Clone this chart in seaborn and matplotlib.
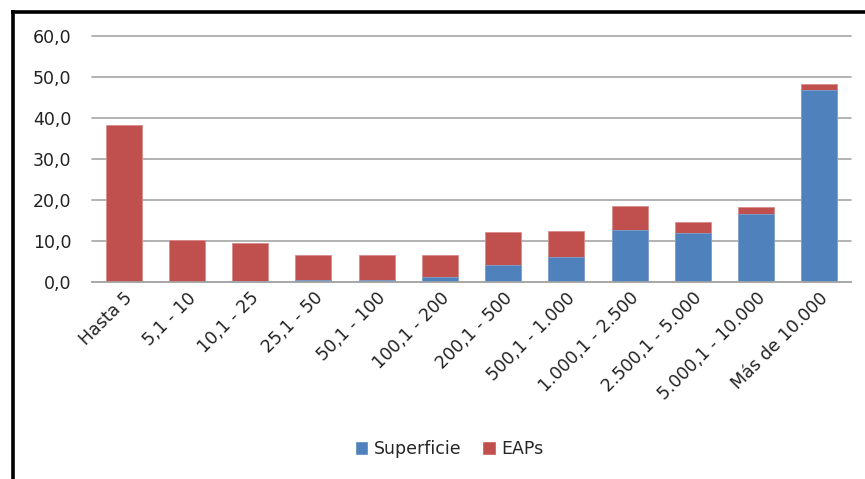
import matplotlib
matplotlib.use("Agg")
import matplotlib.pyplot as plt
from matplotlib.lines import Line2D
from matplotlib.patches import Patch
import numpy as np
import pandas as pd
import seaborn as sns

categories = [
    "Hasta 5", "5,1 - 10", "10,1 - 25", "25,1 - 50", "50,1 - 100", "100,1 - 200",
    "200,1 - 500", "500,1 - 1.000", "1.000,1 - 2.500", "2.500,1 - 5.000",
    "5.000,1 - 10.000", "Más de 10.000",
]
superficie = [0.0, 0.05, 0.2, 0.4, 0.6, 1.1, 4.1, 6.2, 12.6, 11.9, 16.7, 46.8]
eaps = [38.2, 10.1, 9.2, 6.1, 5.9, 5.4, 8.0, 6.2, 5.9, 2.8, 1.6, 1.5]
y_ticks = [0, 10, 20, 30, 40, 50, 60]

BLUE = "#4F81BD"
RED = "#C0504D"

df = pd.DataFrame({"rango": categories, "Superficie": superficie, "EAPs": eaps})
df["total"] = df["Superficie"] + df["EAPs"]

sns.set_theme(style="white")
plt.rcParams["font.family"] = ["DejaVu Sans"]

fig = plt.figure(figsize=(8.65, 4.79), dpi=100)
ax = fig.add_axes([92 / 865, 1 - 282 / 479, (851 - 92) / 865, (282 - 36) / 479])

# stacked: draw the total in red, then superficie in blue on top of it
sns.barplot(data=df, x="rango", y="total", order=categories, color=RED,
            width=0.57, saturation=1, edgecolor="#d98c8a", linewidth=0.6, ax=ax)
sns.barplot(data=df, x="rango", y="Superficie", order=categories, color=BLUE,
            width=0.57, saturation=1, edgecolor="#7fa3d1", linewidth=0.6, ax=ax)

ax.set_xlim(-0.5, len(categories) - 0.5)
ax.set_ylim(0, 60)
ax.set_yticks(y_ticks)
ax.set_yticklabels([f"{v:.1f}".replace(".", ",") for v in y_ticks])
ax.yaxis.grid(True, color="#a6a6a6", linewidth=1.2)
for gl in ax.yaxis.get_gridlines():
    gl.set_clip_on(False)
ax.set_axisbelow(True)
for side in ["top", "right", "left"]:
    ax.spines[side].set_visible(False)
ax.spines["bottom"].set_color("#a6a6a6")
ax.spines["bottom"].set_linewidth(1.2)
ax.set_xlabel("")
ax.set_ylabel("")
ax.tick_params(axis="y", length=0, pad=15, labelsize=12.5, labelcolor="#222222")
ax.tick_params(axis="x", length=0, pad=5, labelsize=12.5, labelcolor="#222222")
plt.setp(ax.get_xticklabels(), rotation=45, ha="right", rotation_mode="anchor")

handles = [Patch(facecolor=BLUE, label="Superficie"), Patch(facecolor=RED, label="EAPs")]
fig.legend(handles=handles, loc="center", bbox_to_anchor=(449 / 865, 1 - 449 / 479),
           ncol=2, frameon=False, fontsize=12.5, handlelength=0.8, handleheight=0.8,
           handletextpad=0.3, columnspacing=1.2)

# black frame on top and left
fig.add_artist(Line2D([11 / 865, 1], [1 - 11.5 / 479] * 2, color="black", linewidth=2.6,
                      solid_capstyle="butt", transform=fig.transFigure))
fig.add_artist(Line2D([12.5 / 865] * 2, [0, 1 - 10 / 479], color="black", linewidth=2.6,
                      solid_capstyle="butt", transform=fig.transFigure))

fig.savefig("out.png", dpi=100)
